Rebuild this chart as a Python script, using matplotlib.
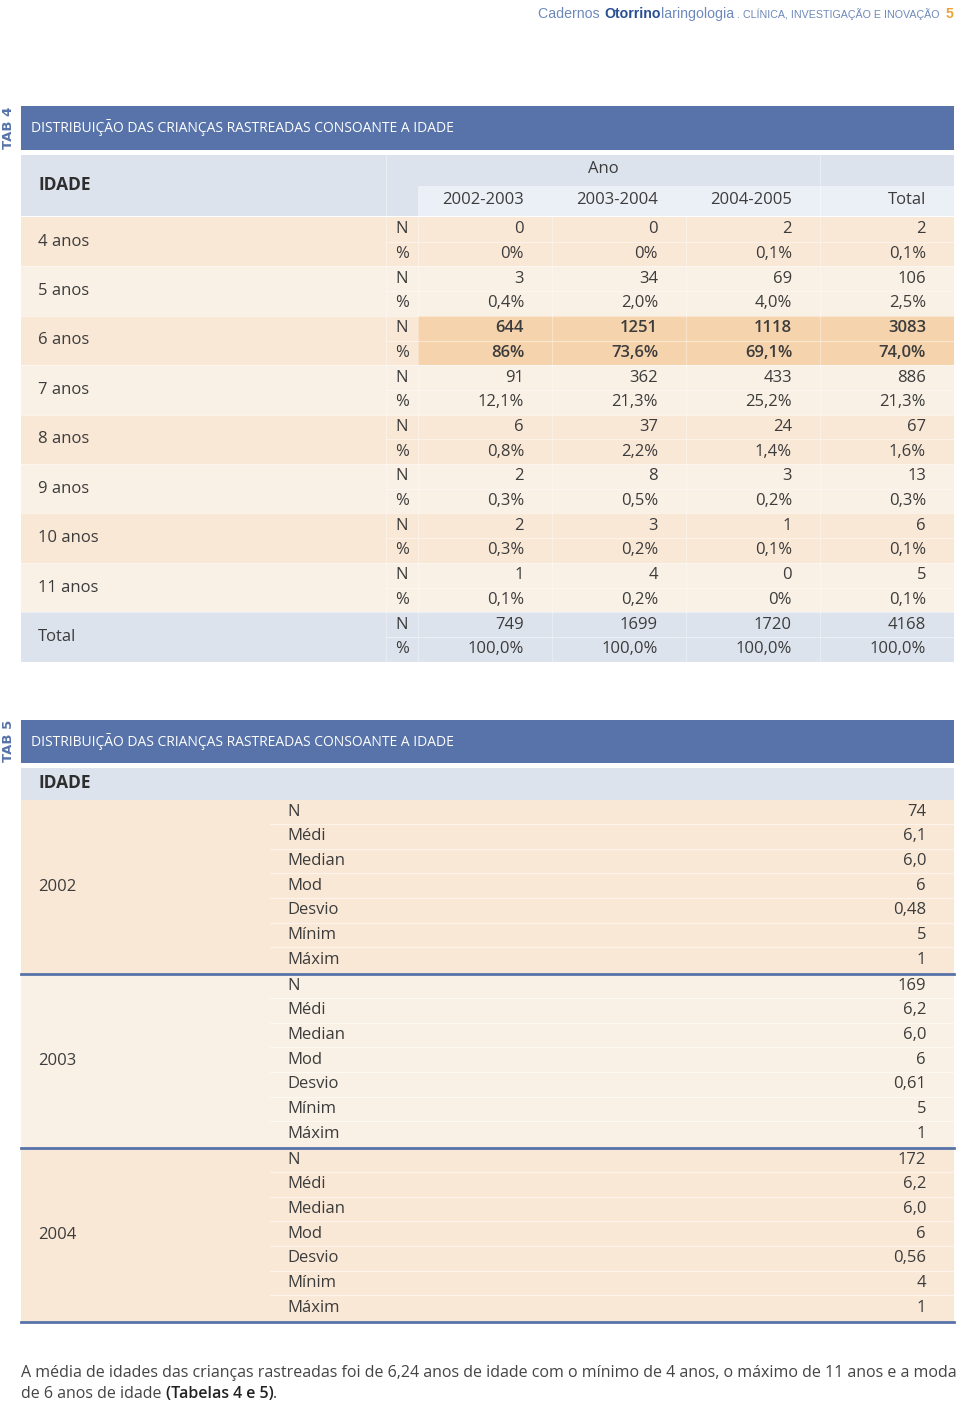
import matplotlib
matplotlib.use("Agg")
import matplotlib.pyplot as plt
from matplotlib.patches import Rectangle

# ---- data (table 4) ----
ages = ['4 anos', '5 anos', '6 anos', '7 anos', '8 anos', '9 anos', '10 anos', '11 anos', 'Total']
periods = ['2002-2003', '2003-2004', '2004-2005', 'Total']
n_values = [[0, 0, 2, 2],
            [3, 34, 69, 106],
            [644, 1251, 1118, 3083],
            [91, 362, 433, 886],
            [6, 37, 24, 67],
            [2, 8, 3, 13],
            [2, 3, 1, 6],
            [1, 4, 0, 5],
            [749, 1699, 1720, 4168]]
pct_values = [['0%', '0%', '0,1%', '0,1%'],
              ['0,4%', '2,0%', '4,0%', '2,5%'],
              ['86%', '73,6%', '69,1%', '74,0%'],
              ['12,1%', '21,3%', '25,2%', '21,3%'],
              ['0,8%', '2,2%', '1,4%', '1,6%'],
              ['0,3%', '0,5%', '0,2%', '0,3%'],
              ['0,3%', '0,2%', '0,1%', '0,1%'],
              ['0,1%', '0,2%', '0%', '0,1%'],
              ['100,0%', '100,0%', '100,0%', '100,0%']]

# ---- data (table 5) ----
years = ['2002', '2003', '2004']
stat_labels = ['N', 'Médi', 'Median', 'Mod', 'Desvio', 'Mínim', 'Máxim']
stat_values = [['74', '6,1', '6,0', '6', '0,48', '5', '1'],
               ['169', '6,2', '6,0', '6', '0,61', '5', '1'],
               ['172', '6,2', '6,0', '6', '0,56', '4', '1']]

title = 'DISTRIBUIÇÃO DAS CRIANÇAS RASTREADAS CONSOANTE A IDADE'
footer1 = 'A média de idades das crianças rastreadas foi de 6,24 anos de idade com o mínimo de 4 anos, o máximo de 11 anos e a moda'
footer2 = 'de 6 anos de idade '

# colours
BAR = '#5773a9'
BLUEGREY = '#dde3ec'
LIGHTBLUE = '#ebeff6'
PEACH = '#fae8d7'
CREAM = '#f9f1e5'
HILITE = '#f5d3ad'
TXT = '#3c3c3c'
FONT = ['Open Sans', 'DejaVu Sans']
NARROW = ['Liberation Sans Narrow', 'Liberation Sans', 'DejaVu Sans']

fig = plt.figure(figsize=(9.6, 14.06), dpi=100)
ax = fig.add_axes([0, 0, 1, 1])
ax.set_xlim(0, 960)
ax.set_ylim(1406, 0)
ax.axis('off')
rend = fig.canvas.get_renderer()


def width_of(t):
    bb = t.get_window_extent(renderer=rend)
    return bb.width


def rect(x0, y0, x1, y1, c):
    ax.add_patch(Rectangle((x0, y0), x1 - x0, y1 - y0, facecolor=c, edgecolor='none', zorder=1))


# ---- running header ----
pieces = [('Cadernos ', '#6d88bb', 'normal', 12),
          ('Otorrino', '#2b4f93', 'bold', 12),
          ('laringologia', '#6d88bb', 'normal', 12),
          (' . CLÍNICA, INVESTIGAÇÃO E INOVAÇÃO  ', '#6d88bb', 'normal', 9),
          ('5', '#e9a53a', 'bold', 12)]
objs = []
for s, c, w, fs in pieces:
    objs.append(ax.text(0, 14, s, color=c, fontweight=w, fontsize=fs, family=NARROW,
                        va='center', ha='left'))
total_w = sum(width_of(o) for o in objs)
scale = 412 / total_w
for o in objs:
    o.set_fontsize(o.get_fontsize() * scale)
total_w = sum(width_of(o) for o in objs)
x = 953 - total_w
for o in objs:
    o.set_x(x)
    x += width_of(o)

# ---- TABLE 4 ----
ax.text(8, 128, 'TAB 4', rotation=90, color=BAR, fontsize=9.5, fontweight='heavy',
        family=['DejaVu Sans'], ha='center', va='center')
rect(21, 106, 954, 150, BAR)
ax.text(31, 127, title, color='white', fontsize=10, family=FONT, va='center')

col_edges = [418, 552, 686, 820, 954]
rect(21, 155, 954, 216, BLUEGREY)
rect(418, 186, 954, 216, LIGHTBLUE)
ax.text(38, 185, 'IDADE', fontsize=12.5, fontweight='bold', color='#2e2e2e', family=FONT, va='center')
ax.text(603, 169, 'Ano', fontsize=12, color=TXT, family=FONT, va='center', ha='center')
for j, p in enumerate(periods):
    ax.text(col_edges[j + 1] - 28, 200, p, fontsize=12, color=TXT, family=FONT, va='center', ha='right')
ax.plot([386, 386], [155, 216], color='white', lw=0.8, alpha=0.4, zorder=2)
ax.plot([820, 820], [155, 216], color='white', lw=0.8, alpha=0.4, zorder=2)

row_h = 49.4
top = 217
for i, age in enumerate(ages):
    y0 = top + i * row_h
    y1 = y0 + row_h
    if age == 'Total':
        c = BLUEGREY
    else:
        c = PEACH if i % 2 == 0 else CREAM
    rect(21, y0, 954, y1, c)
    bold = 'normal'
    if age == '6 anos':
        rect(418, y0, 954, y1, HILITE)
        bold = 'semibold'
    ax.text(38, y0 + row_h / 2, age, fontsize=12, color=TXT, family=FONT, va='center')
    for k, (lab, vals) in enumerate([('N', n_values[i]), ('%', pct_values[i])]):
        yc = y0 + row_h / 4 + k * row_h / 2
        ax.text(402, yc, lab, fontsize=12, color=TXT, family=FONT, va='center', ha='center')
        for j, v in enumerate(vals):
            ax.text(col_edges[j + 1] - 28, yc, str(v), fontsize=12, color=TXT, family=FONT,
                    va='center', ha='right', fontweight=bold, zorder=3)
    ax.plot([386, 954], [y0 + row_h / 2] * 2, color='white', lw=0.8, alpha=0.45, zorder=2)
    ax.plot([21, 954], [y1, y1], color='white', lw=0.8, alpha=0.45, zorder=2)
for xe in [386] + col_edges[:-1]:
    ax.plot([xe, xe], [top, top + len(ages) * row_h], color='white', lw=0.8, alpha=0.35, zorder=2)

# ---- TABLE 5 ----
ax.text(8, 741, 'TAB 5', rotation=90, color=BAR, fontsize=9.5, fontweight='heavy',
        family=['DejaVu Sans'], ha='center', va='center')
rect(21, 720, 954, 763, BAR)
ax.text(31, 741, title, color='white', fontsize=10, family=FONT, va='center')
rect(21, 768, 954, 800, BLUEGREY)
ax.text(38, 783, 'IDADE', fontsize=12.5, fontweight='bold', color='#2e2e2e', family=FONT, va='center')

blk_h = 174
blk_top = 800
for b, yr in enumerate(years):
    y0 = blk_top + b * blk_h
    y1 = y0 + blk_h
    rect(21, y0, 954, y1, PEACH if b % 2 == 0 else CREAM)
    ax.text(38, (y0 + y1) / 2, yr, fontsize=12, color=TXT, family=FONT, va='center')
    for k, lab in enumerate(stat_labels):
        yc = y0 + 11.5 + k * 24.7
        ax.text(287, yc, lab, fontsize=12, color=TXT, family=FONT, va='center')
        ax.text(926, yc, stat_values[b][k], fontsize=12, color=TXT, family=FONT, va='center',
                ha='right')
        if k > 0:
            ax.plot([270, 954], [yc - 12.3] * 2, color='white', lw=0.8, alpha=0.5, zorder=2)
    ax.plot([21, 954], [y1, y1], color=BAR, lw=2, zorder=3)

# ---- footer text ----
f1 = ax.text(21, 1373, footer1, fontsize=12, color='#444444', family=FONT, va='center')
fs = 12 * 932 / width_of(f1)
f1.set_fontsize(fs)
f2 = ax.text(21, 1394, footer2, fontsize=fs, color='#444444', family=FONT, va='center')
f3 = ax.text(21 + width_of(f2), 1394, '(Tabelas 4 e 5)', fontsize=fs, color='#222222', family=FONT,
             va='center', fontweight='semibold')
ax.text(21 + width_of(f2) + width_of(f3), 1394, '.', fontsize=fs, color='#444444',
        family=FONT, va='center')

fig.savefig('out.png', dpi=100, facecolor='white')
